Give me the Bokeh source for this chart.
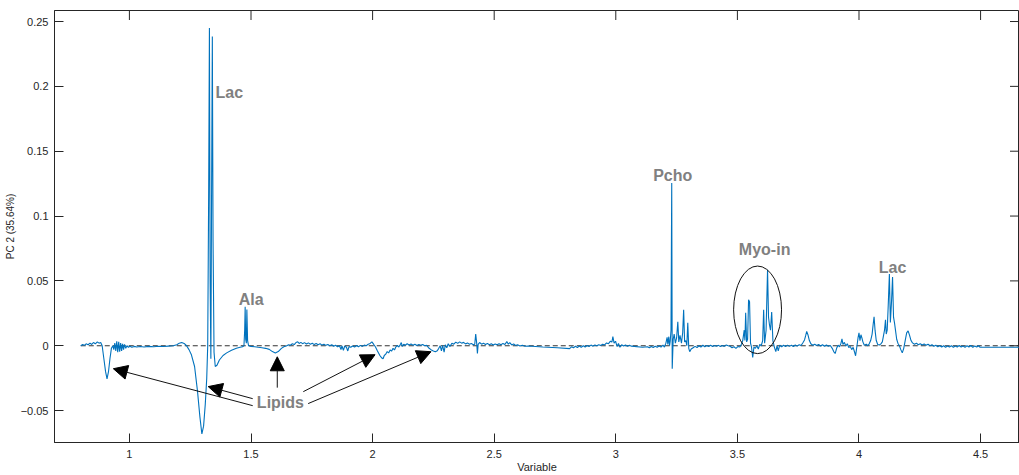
from bokeh.plotting import figure
from bokeh.models import Arrow, NormalHead, Label, FixedTicker
from bokeh.embed import file_html
from bokeh.resources import INLINE

# (chemical shift in ppm, PC2 loading), region by region
region_1 = [
    (0.800, 0.000), (0.808, 0.001), (0.815, 0.0003), (0.822, 0.0015), (0.830, 0.0008),
    (0.838, 0.002), (0.845, 0.001), (0.852, 0.0025), (0.860, 0.0015), (0.868, 0.003),
    (0.875, 0.002), (0.882, 0.0025), (0.888, 0.000), (0.895, -0.010), (0.902, -0.020),
    (0.908, -0.0255), (0.914, -0.020), (0.920, -0.010), (0.926, -0.002), (0.932, 0.000),
    (0.936, -0.003), (0.940, 0.002), (0.944, -0.004), (0.948, 0.0035), (0.952, -0.005),
    (0.956, 0.003), (0.960, -0.0045), (0.964, 0.002), (0.968, -0.004), (0.972, 0.0015),
    (0.976, -0.003), (0.980, 0.001), (0.985, -0.002), (0.990, 0.000), (0.996, -0.0012),
    (1.002, -0.0004), (1.010, -0.0012), (1.020, -0.0005), (1.030, -0.001), (1.045, -0.0006),
    (1.060, -0.001), (1.080, -0.0005), (1.100, -0.0008), (1.120, -0.0004), (1.140, -0.0006),
    (1.160, -0.0003), (1.180, 0.000), (1.195, 0.0008),
]
region_2 = [
    (1.205, 0.002), (1.215, 0.0025), (1.225, 0.0018), (1.235, 0.000), (1.245, -0.003),
    (1.255, -0.007), (1.268, -0.016), (1.280, -0.035), (1.290, -0.055), (1.298, -0.068),
    (1.305, -0.062), (1.312, -0.045), (1.318, -0.025), (1.322, 0.000), (1.326, 0.120),
    (1.329, 0.245), (1.332, 0.050), (1.335, -0.010), (1.338, 0.120), (1.341, 0.2385),
    (1.344, 0.080), (1.348, -0.005), (1.353, -0.016), (1.360, -0.015), (1.370, -0.011),
    (1.385, -0.0075), (1.400, -0.0055), (1.420, -0.0035), (1.440, -0.002), (1.455, -0.0012),
    (1.465, -0.0008), (1.471, 0.000), (1.474, 0.012), (1.476, 0.030), (1.478, 0.005),
    (1.481, 0.002), (1.483, 0.028), (1.486, 0.004), (1.490, 0.000), (1.500, -0.0005),
]
region_3 = [
    (1.515, -0.0008), (1.530, -0.0012), (1.545, -0.0015), (1.560, -0.002), (1.575, -0.0028),
    (1.588, -0.0045), (1.600, -0.0055), (1.612, -0.0045), (1.625, -0.002), (1.635, -0.0008),
    (1.645, -0.0002), (1.655, 0.0008), (1.662, 0.0004), (1.670, 0.0015), (1.678, 0.0009),
    (1.685, 0.0025), (1.692, 0.003), (1.698, 0.0018), (1.705, 0.0026), (1.712, 0.0016),
    (1.720, 0.0024), (1.728, 0.0013), (1.736, 0.0022), (1.744, 0.0012), (1.752, 0.0019),
    (1.760, 0.0009), (1.768, 0.0017), (1.776, 0.0008), (1.784, 0.0015), (1.792, 0.0005),
    (1.800, 0.0012), (1.808, 0.0003), (1.816, 0.001), (1.824, 0.000), (1.832, 0.0008),
    (1.840, -0.0004), (1.848, 0.0004), (1.856, -0.0008), (1.864, 0.000), (1.870, -0.003),
    (1.874, -0.0002), (1.880, -0.0035), (1.885, -0.0004), (1.892, -0.001), (1.898, -0.004),
    (1.903, -0.0006), (1.910, -0.0012), (1.918, -0.0002), (1.926, -0.001), (1.934, 0.0002),
    (1.942, -0.0008), (1.950, 0.0003), (1.958, -0.0005), (1.966, 0.0005), (1.974, 0.000),
    (1.982, 0.0012), (1.990, 0.0018), (1.997, 0.003), (2.004, 0.0012), (2.012, -0.001),
    (2.020, -0.004), (2.030, -0.0075), (2.038, -0.0095), (2.043, -0.010), (2.048, -0.0075),
    (2.054, -0.0065), (2.060, -0.0045), (2.066, -0.0055), (2.072, -0.0032), (2.078, -0.0042),
    (2.084, -0.002), (2.090, -0.0032), (2.096, -0.0008), (2.102, 0.0002), (2.108, -0.001),
    (2.114, 0.001), (2.118, 0.0025), (2.122, -0.0005), (2.128, 0.0012), (2.135, 0.0004),
    (2.142, 0.0016), (2.150, 0.0006), (2.158, 0.0014), (2.166, 0.0004), (2.174, 0.0012),
    (2.182, 0.0002), (2.190, 0.001), (2.198, 0.0003), (2.206, 0.0009), (2.214, 0.000),
    (2.222, 0.0004), (2.230, -0.0015), (2.240, -0.003), (2.250, -0.004), (2.258, -0.0046),
    (2.266, -0.0038), (2.272, -0.002), (2.278, 0.000), (2.283, -0.004), (2.288, 0.0002),
    (2.294, -0.005), (2.299, 0.0008), (2.305, -0.0015), (2.311, 0.0015), (2.318, -0.0006),
    (2.326, 0.002), (2.334, 0.0012), (2.342, 0.0028), (2.350, 0.0018), (2.358, 0.003),
    (2.366, 0.002), (2.374, 0.0026), (2.382, 0.0014), (2.390, 0.0022), (2.398, 0.0012),
    (2.406, 0.0018), (2.414, 0.0008), (2.420, 0.0012),
]
region_4 = [
    (2.424, 0.009), (2.428, 0.002), (2.431, -0.006), (2.434, 0.001), (2.440, 0.0025),
    (2.448, 0.0012), (2.456, 0.002), (2.464, 0.001), (2.472, 0.0018), (2.480, 0.0008),
    (2.488, 0.0015), (2.496, 0.0006), (2.504, 0.0014), (2.512, 0.0007), (2.520, 0.0016),
    (2.528, 0.0008), (2.536, 0.0018), (2.544, 0.001), (2.552, 0.0032), (2.558, 0.0012),
    (2.564, 0.0024), (2.572, 0.0006), (2.580, 0.0014), (2.588, 0.0002), (2.596, 0.0008),
    (2.606, -0.0002), (2.616, 0.0004), (2.626, -0.0004), (2.640, -0.0002), (2.700, -0.001),
    (2.760, -0.0015), (2.810, -0.0022), (2.818, -0.0008), (2.826, -0.0016), (2.834, -0.0004),
    (2.842, -0.0014), (2.850, -0.0002), (2.858, -0.0012), (2.866, 0.000), (2.874, -0.001),
    (2.882, 0.0002), (2.890, -0.0006), (2.898, 0.0005), (2.906, -0.0003), (2.914, 0.0006),
    (2.922, 0.000), (2.930, 0.0008), (2.938, 0.0002), (2.946, 0.0012), (2.954, 0.0006),
    (2.962, 0.0022), (2.970, 0.0016), (2.978, 0.0035), (2.984, 0.0028), (2.988, 0.007),
    (2.993, 0.002), (2.999, 0.0035), (3.005, -0.0005), (3.011, 0.0018), (3.017, -0.0012),
    (3.024, 0.0008), (3.032, -0.0002), (3.040, 0.0006), (3.048, -0.0004), (3.056, 0.0003),
    (3.064, -0.0003), (3.110, -0.0012), (3.130, -0.0008), (3.138, -0.0016), (3.146, -0.0006),
    (3.154, -0.0014), (3.162, -0.0004), (3.170, -0.0012), (3.178, -0.0002), (3.186, -0.001),
    (3.194, 0.0005), (3.200, -0.001),
]
region_5 = [
    (3.206, 0.002), (3.211, 0.0065), (3.214, 0.001), (3.218, 0.007), (3.221, 0.000),
    (3.224, 0.004), (3.227, 0.012), (3.230, 0.1254), (3.232, -0.0177), (3.236, 0.005),
    (3.240, 0.009), (3.245, 0.002), (3.250, 0.006), (3.255, 0.0185), (3.259, 0.003),
    (3.264, 0.008), (3.270, 0.002), (3.275, 0.010), (3.279, 0.0277), (3.283, 0.003),
    (3.288, 0.004), (3.292, 0.000), (3.296, 0.0177), (3.300, -0.002), (3.304, -0.0046),
    (3.310, -0.0025), (3.318, -0.0015), (3.326, -0.0005), (3.334, -0.0014), (3.342, 0.000),
    (3.350, -0.001), (3.358, 0.0004), (3.366, -0.0008), (3.374, 0.0002), (3.382, -0.0006),
    (3.390, 0.0004), (3.398, -0.0006), (3.406, 0.0002), (3.414, -0.0004), (3.422, 0.0003),
    (3.430, -0.0006), (3.438, 0.0002), (3.446, -0.0005), (3.454, 0.0006), (3.462, 0.000),
    (3.470, -0.0004), (3.478, -0.0015), (3.486, -0.0008), (3.494, -0.002), (3.502, -0.0006),
]
region_6 = [
    (3.510, -0.001), (3.516, 0.001), (3.522, 0.004), (3.528, 0.012), (3.531, 0.004),
    (3.534, 0.0254), (3.538, 0.003), (3.542, 0.005), (3.546, 0.0354), (3.550, 0.034),
    (3.554, 0.002), (3.558, -0.001), (3.563, -0.009), (3.568, -0.001), (3.574, -0.002),
    (3.580, 0.000), (3.586, -0.0025), (3.592, 0.001), (3.598, 0.000), (3.604, 0.004),
    (3.608, 0.0277), (3.612, 0.002), (3.618, 0.012), (3.624, 0.0585), (3.628, 0.022),
    (3.632, 0.016), (3.636, 0.012), (3.641, 0.026), (3.646, 0.004), (3.652, -0.001),
    (3.658, -0.0045), (3.663, 0.000), (3.668, -0.004), (3.674, 0.0004), (3.682, -0.0008),
    (3.690, 0.0004), (3.698, -0.0006), (3.706, 0.0005), (3.714, -0.0005), (3.722, 0.0004),
    (3.730, -0.0006), (3.738, 0.0006), (3.746, -0.0003), (3.754, 0.0008), (3.762, 0.0002),
    (3.770, 0.0025), (3.776, 0.0045), (3.781, 0.008), (3.785, 0.011), (3.790, 0.0085),
    (3.796, 0.004), (3.802, 0.0015),
]
region_7 = [
    (3.810, 0.0004), (3.818, 0.0012), (3.826, 0.0002), (3.834, 0.001), (3.842, -0.0002),
    (3.850, 0.0008), (3.858, -0.0004), (3.866, 0.0006), (3.874, -0.0004), (3.882, 0.0002),
    (3.890, -0.002), (3.896, -0.0045), (3.902, -0.006), (3.908, -0.002), (3.914, 0.0004),
    (3.920, -0.0008), (3.926, 0.002), (3.930, 0.0054), (3.934, 0.001), (3.940, 0.0026),
    (3.946, -0.0002), (3.952, 0.0015), (3.958, -0.0014), (3.964, -0.0005), (3.970, -0.003),
    (3.976, -0.0012), (3.982, -0.005), (3.986, -0.0077), (3.991, -0.001), (3.996, 0.006),
    (4.000, 0.010), (4.004, 0.004), (4.008, 0.0085), (4.012, 0.006), (4.016, 0.003),
    (4.022, 0.0004), (4.030, 0.0012), (4.036, 0.000), (4.042, 0.0015), (4.048, 0.004),
    (4.054, 0.009), (4.058, 0.016), (4.062, 0.0223), (4.066, 0.012), (4.071, 0.004),
    (4.077, 0.001), (4.084, 0.0006), (4.090, 0.0015), (4.096, 0.003), (4.101, 0.008),
    (4.105, 0.012), (4.109, 0.020), (4.112, 0.009), (4.116, 0.012), (4.120, 0.030),
    (4.125, 0.0554), (4.129, 0.018), (4.134, 0.035), (4.138, 0.053), (4.142, 0.022),
    (4.146, 0.0177), (4.150, 0.012), (4.155, 0.005), (4.160, 0.002), (4.166, 0.000),
    (4.172, -0.003), (4.178, -0.0055), (4.184, -0.002), (4.190, 0.004), (4.196, 0.010),
    (4.202, 0.0115), (4.208, 0.008), (4.214, 0.004), (4.220, 0.0022), (4.228, 0.0012),
    (4.236, 0.002), (4.244, 0.0008), (4.252, 0.0016), (4.260, 0.0006), (4.268, 0.0014),
    (4.276, 0.0004), (4.284, 0.0012), (4.292, 0.000), (4.300, 0.0008), (4.308, -0.0004),
    (4.316, 0.0004), (4.324, -0.0008), (4.332, 0.0002), (4.340, -0.001), (4.348, 0.000),
    (4.356, -0.0012), (4.364, -0.0002), (4.372, -0.001), (4.380, 0.000), (4.388, -0.0012),
    (4.396, -0.0002), (4.404, -0.001), (4.412, 0.0002), (4.420, -0.001), (4.428, -0.0002),
    (4.436, -0.0012), (4.444, 0.000), (4.452, -0.001), (4.460, 0.0002), (4.468, -0.0012),
    (4.476, -0.0002), (4.484, -0.001), (4.492, 0.000), (4.498, -0.0012), (4.560, -0.0012),
    (4.620, -0.0012), (4.660, -0.0012),
]

x_ticks = [1, 1.5, 2, 2.5, 3, 3.5, 4, 4.5]
y_ticks = [-0.05, 0, 0.05, 0.1, 0.15, 0.2, 0.25]

peak_names = ["Lac", "Ala", "Pcho", "Myo-in", "Lac", "Lipids"]
peak_x = [1.411, 1.501, 3.234, 3.612, 4.138, 1.621]
peak_y = [0.1954, 0.0354, 0.1315, 0.0746, 0.0600, -0.0438]

arrow_x_start = [1.507, 1.507, 1.608, 1.715, 1.735]
arrow_y_start = [-0.0462, -0.0408, -0.0323, -0.0354, -0.0446]
arrow_x_end = [0.934, 1.324, 1.608, 2.010, 2.240]
arrow_y_end = [-0.0177, -0.0315, -0.0085, -0.0069, -0.0046]

circle_x = [3.583]
circle_y = [0.0277]
circle_w = [0.197]
circle_h = [0.0675]

spectrum = region_1 + region_2 + region_3 + region_4 + region_5 + region_6 + region_7
shift_ppm = [pt[0] for pt in spectrum]
pc2_loading = [pt[1] for pt in spectrum]

AX = "#262626"
FONT = "Liberation Sans"
X0, X1 = 0.692, 4.66
Y0, Y1 = -0.0746, 0.2585

p = figure(width=1019, height=475, x_range=(X0, X1), y_range=(Y0, Y1),
           output_backend="svg", toolbar_location=None,
           min_border_left=54, min_border_right=0, min_border_top=10, min_border_bottom=0)
p.xgrid.visible = False
p.ygrid.visible = False
p.outline_line_color = AX
p.outline_line_width = 1
p.background_fill_color = "white"
p.border_fill_color = "white"

# baseline
p.segment(x0=[min(shift_ppm)], y0=[0], x1=[max(shift_ppm)], y1=[0],
          line_color="#333333", line_dash="5 3", line_width=1)

p.line(shift_ppm, pc2_loading, line_color="#0072BD", line_width=1.1)

p.ellipse(x=circle_x, y=circle_y, width=circle_w, height=circle_h,
          fill_color=None, line_color="#111111", line_width=1)

for xs, ys, xe, ye in zip(arrow_x_start, arrow_y_start, arrow_x_end, arrow_y_end):
    p.add_layout(Arrow(x_start=xs, y_start=ys, x_end=xe, y_end=ye,
                       line_color="#111111", line_width=1,
                       end=NormalHead(size=14, fill_color="black", line_color="black")))

for name, xx, yy in zip(peak_names, peak_x, peak_y):
    p.add_layout(Label(x=xx, y=yy, text=name, text_font=FONT, text_font_style="bold",
                       text_font_size="16px", text_color="#808080",
                       text_align="center", text_baseline="middle"))

# inward box ticks on the top and right edges (half of each dash is clipped by the frame)
p.scatter(x=x_ticks, y=[Y1] * len(x_ticks), marker="dash", size=19, angle=1.5708,
          line_color=AX, line_width=1)
p.scatter(x=[X1] * len(y_ticks), y=y_ticks, marker="dash", size=19,
          line_color=AX, line_width=1)

def style(ax):
    ax.axis_line_color = AX
    ax.major_tick_line_color = AX
    ax.minor_tick_line_color = None
    ax.major_tick_in = 9
    ax.major_tick_out = 0
    ax.major_label_text_font = FONT
    ax.major_label_text_color = AX
    ax.major_label_text_font_size = "11px"
    ax.axis_label_text_font = FONT
    ax.axis_label_text_color = AX
    ax.axis_label_text_font_style = "normal"

xa = p.xaxis[0]
xa.ticker = FixedTicker(ticks=x_ticks)
style(xa)
xa.axis_label = "Variable"
xa.axis_label_text_font_size = "11px"
xa.major_label_standoff = 7
xa.axis_label_standoff = 0

ya = p.yaxis[0]
ya.ticker = FixedTicker(ticks=y_ticks)
style(ya)
ya.axis_label = "PC 2 (35.64%)"
ya.axis_label_text_font_size = "10px"
ya.major_label_standoff = 6
ya.axis_label_standoff = 2

open("out.html", "w").write(file_html(p, INLINE))
